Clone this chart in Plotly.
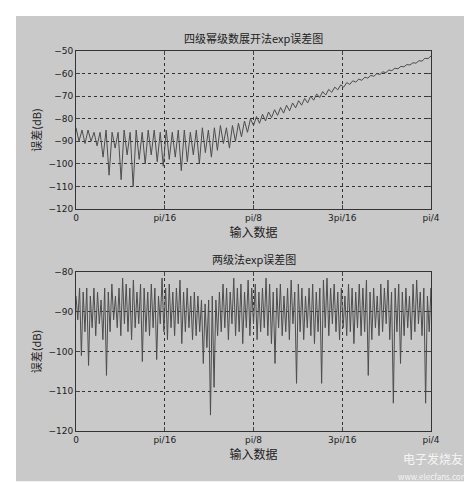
import numpy as np
import plotly.graph_objects as go

tick_vals_frac = [0, 1, 2, 3, 4]
tick_labels = ["0", "pi/16", "pi/8", "3pi/16", "pi/4"]

# top: upper / lower envelope estimates at 60 positions over [0, pi/4]
top_hi = [-84, -85, -85, -86, -86, -85, -86, -86, -85, -86, -85, -86, -85, -85, -86,
          -85, -86, -85, -85, -86, -85, -84, -85, -84, -83, -84, -83, -82, -81, -80,
          -79, -78, -77, -76, -75, -74, -73, -72, -71, -70, -69, -68, -67, -66, -65,
          -64, -63.2, -62.4, -61.6, -60.8, -60, -59.2, -58.4, -57.6, -56.8, -56, -55.2, -54.3, -53.2, -52.2]
top_lo = [-90, -91, -90, -92, -97, -105, -93, -107, -96, -110, -98, -100, -96, -99, -101,
          -98, -97, -103, -99, -96, -100, -95, -97, -94, -91, -93, -90, -88, -86, -83,
          -82, -81, -79.5, -78.5, -77.5, -76.5, -75.2, -74, -73, -71.8, -70.6, -69.5, -68.3, -67.2, -66,
          -64.8, -63.8, -63, -62, -61.2, -60.4, -59.6, -58.7, -57.9, -57, -56.2, -55.4, -54.5, -53.4, -52.4]

# bottom: upper / lower envelope estimates at 100 positions over [0, pi/4]
bot_hi = [-86, -84, -85, -84, -86, -84, -85, -87, -84, -85, -83, -86, -84, -81.5, -83, -84, -82, -85, -83, -84,
          -85, -83, -84, -86, -81.5, -84, -83, -85, -84, -82, -85, -84, -86, -85, -86, -87, -88, -87, -86, -87,
          -85, -83, -84, -85, -81.5, -84, -83, -85, -82, -84, -83, -85, -84, -81.5, -83, -85, -84, -83, -86, -84,
          -82, -85, -83, -84, -86, -84, -83, -85, -84, -82, -81.5, -84, -83, -85, -84, -86, -83, -84, -85, -83,
          -84, -82, -85, -84, -86, -83, -84, -82, -85, -84, -83, -85, -84, -86, -83, -82, -85, -84, -86, -84]
bot_lo = [-92, -101, -95, -103.5, -94, -96, -93, -97, -106, -95, -92, -94, -96, -93, -95, -97, -94, -93, -102.5, -95,
          -96, -94, -102, -93, -95, -97, -94, -96, -93, -98, -95, -94, -97, -96, -95, -103, -99, -116, -109, -96,
          -95, -94, -97, -93, -96, -95, -98, -94, -96, -93, -97, -95, -94, -96, -98, -103, -94, -96, -95, -97,
          -93, -108, -95, -97, -94, -96, -98, -95, -108, -94, -96, -93, -95, -97, -94, -96, -95, -98, -94, -96,
          -95, -106, -97, -94, -96, -95, -93, -97, -113, -95, -103, -96, -94, -97, -95, -93, -96, -113, -95, -94]

def zig(hi, lo):
    xs = np.linspace(0, np.pi / 4, len(hi))
    d = xs[1] - xs[0]
    xx, ys = [], []
    for i in range(len(hi)):
        xx += [xs[i], xs[i] + 0.5 * d]
        ys += [hi[i], lo[i]]
    return xx, ys

fig = go.Figure()
tx, ty = zig(top_hi, top_lo)
bx, by = zig(bot_hi, bot_lo)
line = dict(color="#4d4d4d", width=1)
fig.add_trace(go.Scatter(x=tx, y=ty, mode="lines", line=line, xaxis="x", yaxis="y", showlegend=False))
fig.add_trace(go.Scatter(x=bx, y=by, mode="lines", line=line, xaxis="x2", yaxis="y2", showlegend=False))

tickv = [v * np.pi / 16 for v in tick_vals_frac]
f = dict(family="DejaVu Sans", size=9, color="#222")
ax = dict(range=[0, np.pi / 4], tickvals=tickv, ticktext=tick_labels, showgrid=True,
          gridcolor="#333", griddash="dot", gridwidth=1, showline=True, linecolor="#333",
          mirror="ticks", ticks="inside", ticklen=4, tickfont=f, zeroline=False,
          title=dict(text="输入数据", font=dict(family="Noto Sans CJK SC", size=12, color="#222"), standoff=0))
ay = dict(showgrid=True, gridcolor="#333", griddash="dot", showline=True, linecolor="#333",
          mirror="ticks", ticks="inside", ticklen=4, tickfont=f, zeroline=False,
          title=dict(text="误差(dB)", font=dict(family="Noto Sans CJK SC", size=11, color="#222"), standoff=4))
fig.update_layout(
    width=472, height=482, margin=dict(l=68, r=49, t=43, b=59),
    paper_bgcolor="white", plot_bgcolor="white",
    xaxis=dict(ax, domain=[0, 1], anchor="y"),
    yaxis=dict(ay, domain=[0.584, 1], range=[-120, -50], dtick=10, anchor="x"),
    xaxis2=dict(ax, domain=[0, 1], anchor="y2"),
    yaxis2=dict(ay, domain=[0, 0.418], range=[-120, -80], dtick=10, anchor="x2"),
    shapes=[dict(type="rect", xref="paper", yref="paper", x0=-0.169, x1=1.118, y0=-0.132, y1=1.092,
                 fillcolor="#c9c9c9", line=dict(width=0), layer="below")],
    annotations=[
        dict(text="四级幂级数展开法exp误差图", xref="paper", yref="paper", x=0.5, y=1.0, yshift=3,
             showarrow=False, yanchor="bottom", font=dict(family="Noto Sans CJK SC", size=11, color="#222")),
        dict(text="两级法exp误差图", xref="paper", yref="paper", x=0.5, y=0.418, yshift=3,
             showarrow=False, yanchor="bottom", font=dict(family="Noto Sans CJK SC", size=11, color="#222")),
        dict(text="电子发烧友<br><span style='font-size:8px'>www.elecfans.com</span>", xref="paper", yref="paper",
             x=1.11, y=-0.14, xanchor="right", yanchor="bottom", showarrow=False,
             font=dict(family="Noto Sans CJK SC", size=12, color="rgba(255,255,255,0.85)")),
    ],
)
fig.write_html("out.html")
